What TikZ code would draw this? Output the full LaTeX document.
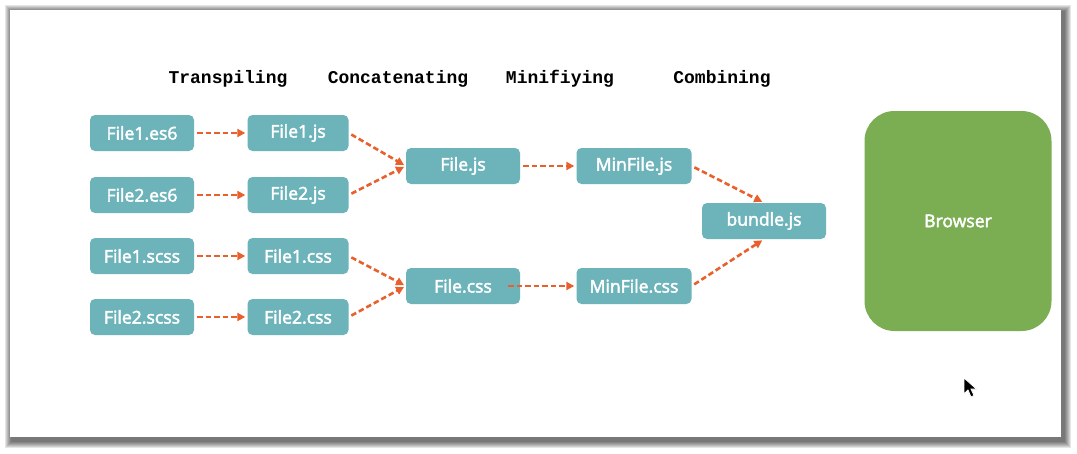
\documentclass[tikz,border=0pt]{standalone}
\usepackage{fontspec}
\newfontfamily\boxfont[FakeBold=2.5]{Open Sans}
\newfontfamily\headfont{Liberation Mono}
\usetikzlibrary{arrows.meta}
\definecolor{boxteal}{RGB}{109,179,186}
\definecolor{browsergreen}{RGB}{123,173,82}
\definecolor{flow}{RGB}{232,96,44}
\tikzset{
  filebox/.style={fill=boxteal, rounded corners=5pt, minimum height=36pt,
    inner sep=0pt, text=white, font=\boxfont\fontsize{17.6}{20}\selectfont},
  stage/.style={font=\headfont\bfseries\fontsize{18}{20}\selectfont},
  flowline/.style={draw=flow, line width=2.6pt, dash pattern=on 5.5pt off 3pt,
    -{Triangle[length=8pt,width=8pt]}, shorten <=3pt, shorten >=2pt}
}
\begin{document}
\begin{tikzpicture}[x=1pt, y=-1pt]
            \useasboundingbox (0,0) rectangle (1077,453);
            % screenshot frame
            \foreach \r in {1,...,7}
                \fill[black, opacity=0.1] (12-\r,12-\r) rectangle (1064+\r,441+\r);
            \fill[white] (10,10) rectangle (1061,437);
            % stages
            \node[stage] (h1) at (228,79) {Transpiling};
            \node[stage] (h2) at (398,79) {Concatenating};
            \node[stage] (h3) at (560,79) {Minifiying};
            \node[stage] (h4) at (722,79) {Combining};
            % sources
            \node[filebox, minimum width=104pt] (es1) at (142,133) {File1.es6};
            \node[filebox, minimum width=104pt] (es2) at (142,195) {File2.es6};
            \node[filebox, minimum width=104pt] (scss1) at (142,256) {File1.scss};
            \node[filebox, minimum width=104pt] (scss2) at (142,317) {File2.scss};
            \node[filebox, minimum width=101pt] (js1) at (298,133) {File1.js};
            \node[filebox, minimum width=101pt] (js2) at (298,195) {File2.js};
            \node[filebox, minimum width=101pt] (css1) at (298,256) {File1.css};
            \node[filebox, minimum width=101pt] (css2) at (298,317) {File2.css};
            \node[filebox, minimum width=114pt] (js) at (463,166) {File.js};
            \node[filebox, minimum width=114pt] (css) at (463,286) {File.css};
            \node[filebox, minimum width=115pt] (minjs) at (634,166) {MinFile.js};
            \node[filebox, minimum width=115pt] (mincss) at (634,286) {MinFile.css};
            \node[filebox, minimum width=124pt] (bundle) at (764,221) {bundle.js};
            \node[fill=browsergreen, rounded corners=30pt, minimum width=187pt,
                minimum height=220pt, text=white,
                font=\boxfont\fontsize{17.6}{20}\selectfont] (browser) at (958,221) {Browser};
            % connectors
            \draw[flowline] (es1) -- (js1);
            \draw[flowline] (es2) -- (js2);
            \draw[flowline] (scss1) -- (css1);
            \draw[flowline] (scss2) -- (css2);
            \draw[flowline] (js1.east) -- (js.west);
            \draw[flowline] (js2.east) -- (js.west);
            \draw[flowline] (css1.east) -- (css.west);
            \draw[flowline] (css2.east) -- (css.west);
            \draw[flowline] (js) -- (minjs);
            \draw[flowline, shorten <=0pt] ([xshift=-12pt]css.east) -- (mincss);
            \draw[flowline] (minjs.east) -- (bundle.north);
            \draw[flowline] (mincss.east) -- (bundle.south);
            % cursor
            \coordinate (tip) at (964,378);
            \draw[white, fill=black, line width=0.8pt, line join=miter]
                (tip) -- ++(0,16) -- ++(4,-4) -- ++(3,7) -- ++(3,-1.5)
                -- ++(-3,-6.5) -- ++(5.5,0) -- cycle;
        \end{tikzpicture}
\end{document}
